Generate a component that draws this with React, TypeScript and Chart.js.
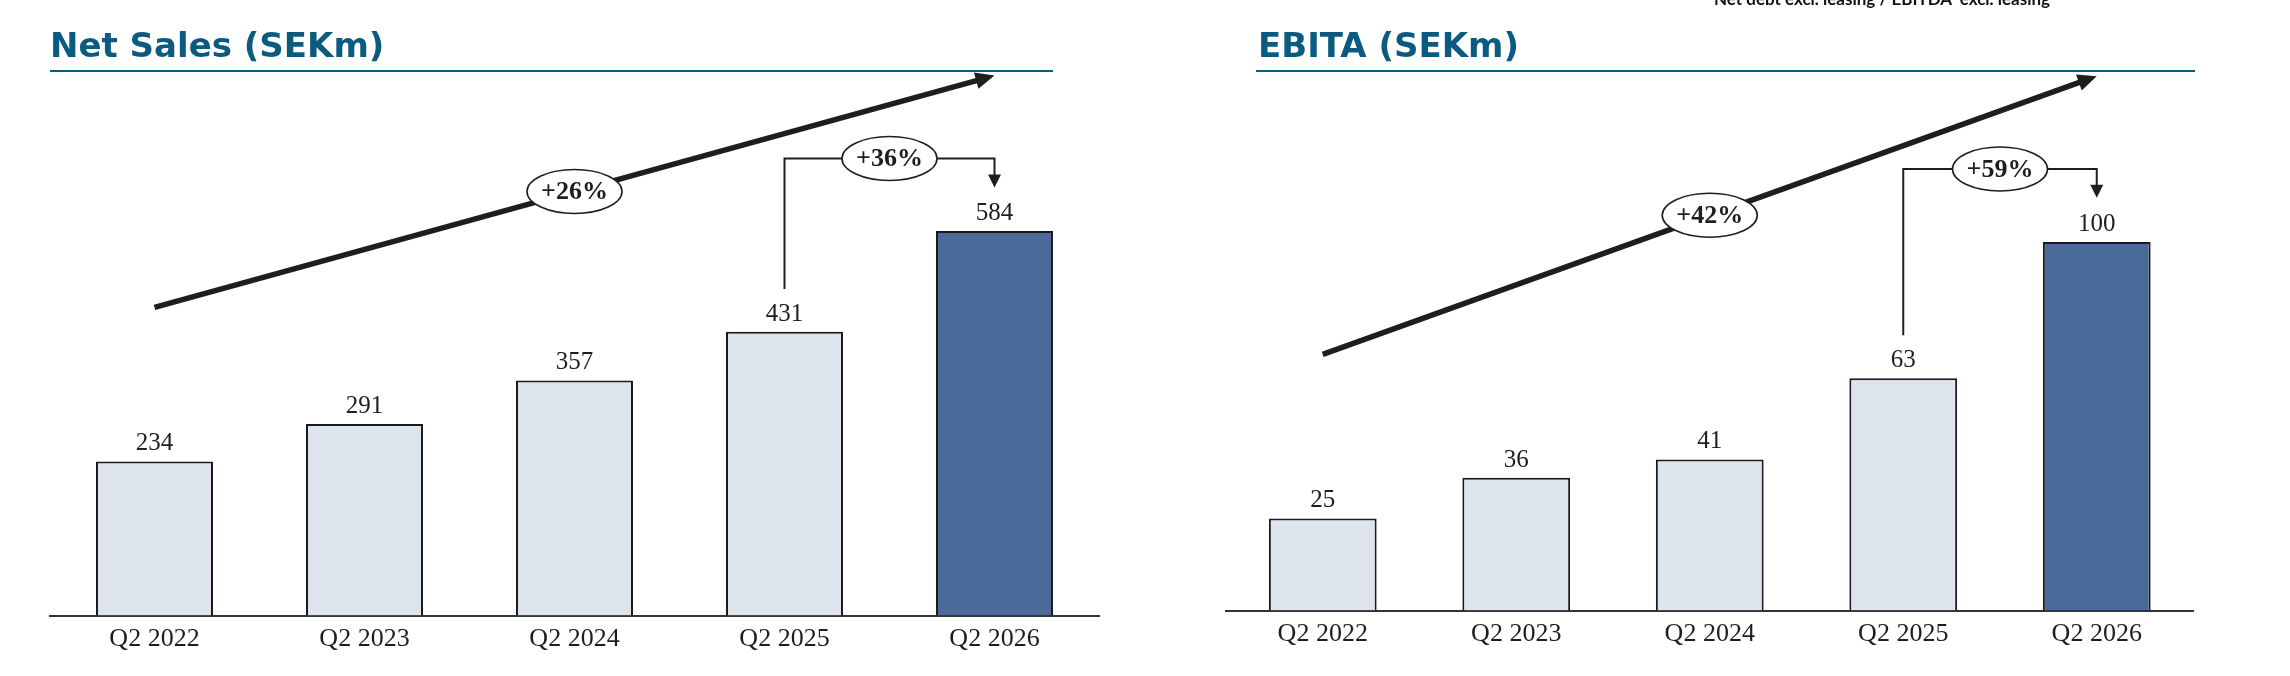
import React, { useEffect, useRef } from "react";
import { Chart, registerables } from "chart.js";

Chart.register(...registerables);

const quarters = ["Q2 2022", "Q2 2023", "Q2 2024", "Q2 2025", "Q2 2026"];
const netSales = [234, 291, 357, 431, 584];
const ebita = [25, 36, 41, 63, 100];

// trend arrow, in value units: [at first bar, at last bar]
const salesTrend = [468, 820];
const ebitaTrend = [69.5, 145];
// bracket from the 2025 bar to the 2026 bar: [start, top, arrow tip]
const salesBracket = [496, 694, 650];
const ebitaBracket = [74.7, 119.8, 112];

const salesGrowth = ["+26%", "+36%"];
const ebitaGrowth = ["+42%", "+59%"];

const INK = "#1e1e1e";
const TITLE_BLUE = "#0b5a80";

function arrowHead(ctx: CanvasRenderingContext2D, x: number, y: number, ang: number, len: number, half: number) {
  const bx = x - len * Math.cos(ang);
  const by = y - len * Math.sin(ang);
  ctx.beginPath();
  ctx.moveTo(x, y);
  ctx.lineTo(bx + half * Math.sin(ang), by - half * Math.cos(ang));
  ctx.lineTo(bx - half * Math.sin(ang), by + half * Math.cos(ang));
  ctx.closePath();
  ctx.fill();
}

function bubble(ctx: CanvasRenderingContext2D, x: number, y: number, text: string) {
  ctx.beginPath();
  ctx.ellipse(x, y, 47.5, 22, 0, 0, Math.PI * 2);
  ctx.fillStyle = "#ffffff";
  ctx.fill();
  ctx.lineWidth = 1.6;
  ctx.strokeStyle = INK;
  ctx.stroke();
  ctx.fillStyle = INK;
  ctx.font = "bold 26px 'Liberation Serif'";
  ctx.textAlign = "center";
  ctx.textBaseline = "middle";
  ctx.fillText(text, x, y + 1);
}

const growthPlugin = {
  id: "growth",
  afterDatasetsDraw(chart: any, _args: any, opts: any) {
    const ctx: CanvasRenderingContext2D = chart.ctx;
    const xs = chart.scales.x;
    const ys = chart.scales.y;
    const values = chart.data.datasets[0].data as number[];
    const meta = chart.getDatasetMeta(0);
    const last = values.length - 1;

    ctx.save();
    // value labels
    ctx.fillStyle = INK;
    ctx.font = "25px 'Liberation Serif'";
    ctx.textAlign = "center";
    ctx.textBaseline = "alphabetic";
    meta.data.forEach((bar: any, i: number) => {
      ctx.fillText(String(values[i]), bar.x, bar.y - 11);
    });

    // long trend arrow
    const x0 = xs.getPixelForValue(0);
    const y0 = ys.getPixelForValue(opts.trend[0]);
    const x1 = xs.getPixelForValue(last);
    const y1 = ys.getPixelForValue(opts.trend[1]);
    const ang = Math.atan2(y1 - y0, x1 - x0);
    ctx.strokeStyle = INK;
    ctx.fillStyle = INK;
    ctx.lineWidth = 5.5;
    ctx.beginPath();
    ctx.moveTo(x0, y0);
    ctx.lineTo(x1 - 14 * Math.cos(ang), y1 - 14 * Math.sin(ang));
    ctx.stroke();
    arrowHead(ctx, x1, y1, ang, 19, 8.5);
    bubble(ctx, (x0 + x1) / 2, (y0 + y1) / 2, opts.labels[0]);

    // year-on-year bracket
    const bx0 = xs.getPixelForValue(last - 1);
    const byStart = ys.getPixelForValue(opts.bracket[0]);
    const byTop = ys.getPixelForValue(opts.bracket[1]);
    const byTip = ys.getPixelForValue(opts.bracket[2]);
    ctx.strokeStyle = INK;
    ctx.fillStyle = INK;
    ctx.lineWidth = 2;
    ctx.beginPath();
    ctx.moveTo(bx0, byStart);
    ctx.lineTo(bx0, byTop);
    ctx.lineTo(x1, byTop);
    ctx.lineTo(x1, byTip - 10);
    ctx.stroke();
    arrowHead(ctx, x1, byTip, Math.PI / 2, 13, 6.5);
    bubble(ctx, (bx0 + x1) / 2, byTop, opts.labels[1]);
    ctx.restore();
  },
};

interface PanelProps {
  values: number[];
  yMax: number;
  trend: number[];
  bracket: number[];
  labels: string[];
  padding: { left: number; right: number; top: number; bottom: number };
}

function BarPanel({ values, yMax, trend, bracket, labels, padding }: PanelProps) {
  const canvasRef = useRef<HTMLCanvasElement | null>(null);
  const chartRef = useRef<Chart | null>(null);

  useEffect(() => {
    if (!canvasRef.current) return;
    if (chartRef.current) chartRef.current.destroy();

    const last = values.length - 1;
    chartRef.current = new Chart(canvasRef.current, {
      type: "bar",
      data: {
        labels: quarters,
        datasets: [
          {
            data: values,
            backgroundColor: values.map((_, i) => (i === last ? "#4b6a99" : "#dee4ee")),
            borderColor: "#1a1a1a",
            borderWidth: 2,
            categoryPercentage: 1,
            barPercentage: 0.557,
          },
        ],
      },
      options: {
        responsive: false,
        animation: false,
        layout: { padding },
        plugins: {
          legend: { display: false },
          tooltip: { enabled: false },
          growth: { trend, bracket, labels },
        } as any,
        scales: {
          x: {
            offset: true,
            grid: { display: false, drawTicks: false },
            border: { display: true, color: "#333333", width: 2 },
            ticks: {
              color: INK,
              font: { family: "'Liberation Serif'", size: 26 },
              padding: 8,
              maxRotation: 0,
              autoSkip: false,
            },
          },
          y: { display: false, min: 0, max: yMax },
        },
      },
      plugins: [growthPlugin],
    });

    return () => {
      if (chartRef.current) {
        chartRef.current.destroy();
        chartRef.current = null;
      }
    };
  }, [values, yMax, trend, bracket, labels, padding]);

  return <canvas ref={canvasRef} width={1145} height={676} style={{ display: "block" }} />;
}

const titleStyle: React.CSSProperties = {
  position: "absolute",
  top: 28,
  fontFamily: "'DejaVu Sans'",
  fontWeight: 700,
  fontSize: 34,
  lineHeight: "34px",
  color: TITLE_BLUE,
  whiteSpace: "nowrap",
};

const salesPadding = { left: 49.5, right: 45.5, top: 22.9, bottom: 13.3 };
const ebitaPadding = { left: 81, right: 96.5, top: 20.9, bottom: 18.3 };

export default function App() {
  useEffect(() => {
    document.body.style.margin = "0";
  }, []);

  return (
    <div style={{ position: "relative", width: 2290, height: 676, overflow: "hidden", background: "#ffffff" }}>
      <div style={{ position: "absolute", left: 0, top: 0 }}>
        <BarPanel values={netSales} yMax={900} trend={salesTrend} bracket={salesBracket} labels={salesGrowth} padding={salesPadding} />
      </div>
      <div style={{ position: "absolute", left: 1145, top: 0 }}>
        <BarPanel values={ebita} yMax={160} trend={ebitaTrend} bracket={ebitaBracket} labels={ebitaGrowth} padding={ebitaPadding} />
      </div>

      <div style={{ ...titleStyle, left: 50 }}>Net Sales (SEKm)</div>
      <div style={{ position: "absolute", left: 50, top: 70, width: 1003, height: 2, background: TITLE_BLUE }} />

      <div style={{ ...titleStyle, left: 1258 }}>EBITA (SEKm)</div>
      <div style={{ position: "absolute", left: 1256, top: 70, width: 939, height: 2, background: TITLE_BLUE }} />

      <div
        style={{
          position: "absolute",
          left: 1582,
          width: 600,
          top: -10,
          textAlign: "center",
          fontFamily: "Lato",
          fontWeight: 700,
          fontSize: 17,
          lineHeight: "17px",
          color: "#111111",
          whiteSpace: "pre",
        }}
      >
        Net debt excl. leasing / EBITDA  excl. leasing
      </div>
    </div>
  );
}
